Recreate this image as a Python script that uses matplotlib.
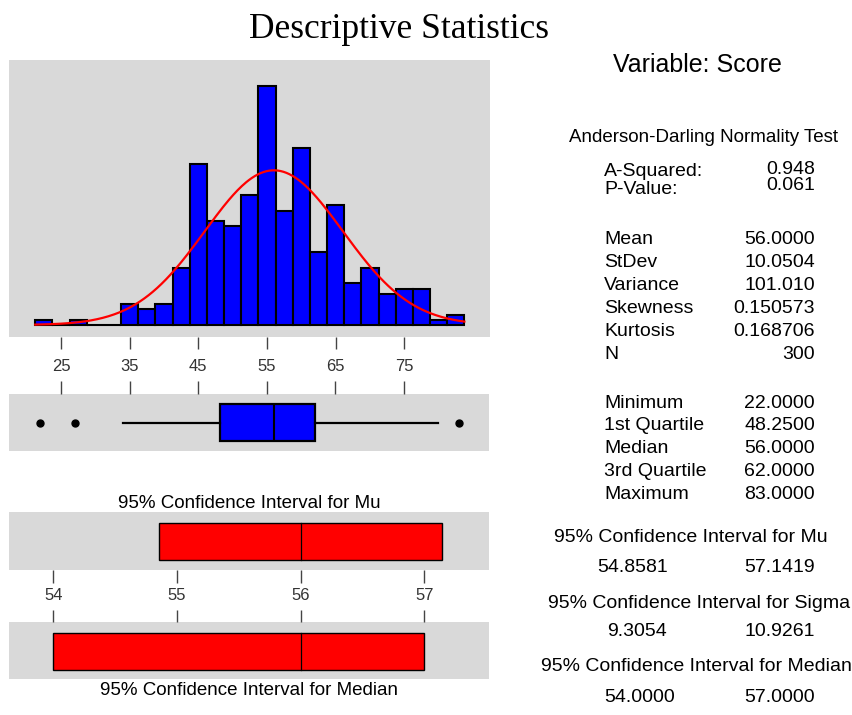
import matplotlib
matplotlib.use("Agg")
import matplotlib.pyplot as plt
import numpy as np

# ---------------------------------------------------------------------------
# data
# ---------------------------------------------------------------------------
bin_mids = [22.5, 25.0, 27.5, 30.0, 32.5, 35.0, 37.5, 40.0, 42.5, 45.0,
            47.5, 50.0, 52.5, 55.0, 57.5, 60.0, 62.5, 65.0, 67.5, 70.0,
            72.5, 75.0, 77.5, 80.0, 82.5]
bin_counts = [1, 0, 1, 0, 0, 4, 3, 4, 11, 31,
              20, 19, 25, 46, 22, 34, 14, 23, 8, 11,
              6, 7, 7, 1, 2]
bin_width = 2.5
hist_ticks = [25, 35, 45, 55, 65, 75]

mean, stdev, n_obs = 56.0, 10.0504, 300
q1, median, q3 = 48.25, 56.0, 62.0
whisker_lo, whisker_hi = 34, 80
outliers = [22, 27, 83]

ci_mu = (54.8581, 57.1419)
ci_median = (54.0, 57.0)
ci_ticks = [54, 55, 56, 57]

stat_rows_1 = [("Mean", "56.0000"), ("StDev", "10.0504"), ("Variance", "101.010"),
               ("Skewness", "0.150573"), ("Kurtosis", "0.168706"), ("N", "300")]
stat_rows_2 = [("Minimum", "22.0000"), ("1st Quartile", "48.2500"),
               ("Median", "56.0000"), ("3rd Quartile", "62.0000"),
               ("Maximum", "83.0000")]

# ---------------------------------------------------------------------------
W, H = 853, 715
GRAY = "#d9d9d9"
TICK_C = "#444444"
SANS = ["Liberation Sans", "DejaVu Sans"]
plt.rcParams["font.family"] = SANS

fig = plt.figure(figsize=(W / 100, H / 100), dpi=100)
fig.patch.set_facecolor("white")


def px_axes(x0, y0, x1, y1):
    """axes from pixel box (top-left origin)"""
    ax = fig.add_axes([x0 / W, 1 - y1 / H, (x1 - x0) / W, (y1 - y0) / H])
    ax.set_facecolor(GRAY)
    for sp in ax.spines.values():
        sp.set_visible(False)
    ax.set_yticks([])
    return ax


def px_text(x, y, s, **kw):
    kw.setdefault("va", "center")
    kw.setdefault("fontsize", 14)
    fig.text(x / W, 1 - y / H, s, **kw)


# --- histogram ---
ax_h = px_axes(9, 60, 490, 336.7)
ax_h.bar(bin_mids, bin_counts, width=bin_width, color="#0000ff",
         edgecolor="black", linewidth=1.5, zorder=2)
xs = np.linspace(bin_mids[0] - bin_width / 2, bin_mids[-1] + bin_width / 2, 300)
pdf = np.exp(-0.5 * ((xs - mean) / stdev) ** 2) / (stdev * np.sqrt(2 * np.pi))
ax_h.plot(xs, pdf * n_obs * bin_width, color="#ff0000", lw=1.6, zorder=3)
ax_h.set_xlim(17.43, 87.48)
ax_h.set_ylim(-2.25, 51.0)
ax_h.set_xticks(hist_ticks)
ax_h.tick_params(axis="x", direction="out", length=8.9, width=1, color=TICK_C,
                 labelsize=12, labelcolor="#333333", pad=7)

# --- boxplot ---
ax_b = px_axes(9, 394.3, 489.5, 450.7)
ax_b.bxp([{"med": median, "q1": q1, "q3": q3, "whislo": whisker_lo,
           "whishi": whisker_hi, "fliers": outliers}],
         positions=[0.5], widths=0.645, vert=False, patch_artist=True,
         boxprops=dict(facecolor="#0000ff", edgecolor="black", linewidth=1.6),
         medianprops=dict(color="black", linewidth=1.5),
         whiskerprops=dict(color="black", linewidth=1.6),
         capprops=dict(linewidth=0),
         flierprops=dict(marker="o", markersize=5, markerfacecolor="black",
                         markeredgecolor="black"))
ax_b.set_xlim(17.43, 87.48)
ax_b.set_ylim(0, 1)
ax_b.set_yticks([])
ax_b.set_xticks(hist_ticks)
ax_b.xaxis.set_ticks_position("top")
ax_b.tick_params(axis="x", direction="out", length=9.6, width=1, color=TICK_C,
                 labeltop=False, labelbottom=False)


def ci_panel(y0, y1, ci, centre, ycen, ticks_top):
    ax = px_axes(9, y0, 489.3, y1)
    ax.barh([ycen], [ci[1] - ci[0]], left=[ci[0]], height=0.64,
            color="#ff0000", edgecolor="black", linewidth=1.0, zorder=2)
    ax.plot([centre, centre], [ycen - 0.32, ycen + 0.32], color="black",
            lw=0.9, zorder=3)
    ax.set_xlim(53.642, 57.525)
    ax.set_ylim(0, 1)
    ax.set_xticks(ci_ticks)
    if ticks_top:
        ax.xaxis.set_ticks_position("top")
        ax.tick_params(axis="x", direction="out", length=8.4, width=1,
                       color=TICK_C, labeltop=False, labelbottom=False)
    else:
        ax.tick_params(axis="x", direction="out", length=9.6, width=1,
                       color=TICK_C, labelsize=12, labelcolor="#333333", pad=3)
    return ax


ci_panel(512.3, 570, ci_mu, mean, 0.5, ticks_top=False)
ci_panel(621.7, 679, ci_median, median, 0.48, ticks_top=True)

px_text(249, 503.5, "95% Confidence Interval for Mu", ha="center", fontsize=13.5)
px_text(249.5, 690.5, "95% Confidence Interval for Median", ha="center", fontsize=13.5)

# --- title and right-hand summary ---
px_text(399.5, 30, "Descriptive Statistics", ha="center", fontsize=25.5,
        family=["Liberation Serif", "DejaVu Serif"])
px_text(697, 65, "Variable: Score", ha="center", fontsize=18)
px_text(704, 138, "Anderson-Darling Normality Test", ha="center", fontsize=13.5)

LX, RX = 604, 815
px_text(LX, 171.7, "A-Squared:", ha="left")
px_text(RX, 169.3, "0.948", ha="right")
px_text(LX, 190, "P-Value:", ha="left")
px_text(RX, 185.7, "0.061", ha="right")

for i, (lab, val) in enumerate(stat_rows_1):
    y = 239.5 + i * 23
    px_text(LX, y, lab, ha="left")
    px_text(RX, y, val, ha="right")

for i, (lab, val) in enumerate(stat_rows_2):
    y = 403 + i * 22.8
    px_text(LX, y, lab, ha="left")
    px_text(RX, y, val, ha="right")

px_text(691, 537, "95% Confidence Interval for Mu", ha="center")
px_text(633, 567, "54.8581", ha="center")
px_text(RX, 567, "57.1419", ha="right")
px_text(699, 603, "95% Confidence Interval for Sigma", ha="center")
px_text(637.5, 631, "9.3054", ha="center")
px_text(RX, 631, "10.9261", ha="right")
px_text(696, 666.5, "95% Confidence Interval for Median", ha="center")
px_text(640, 697, "54.0000", ha="center")
px_text(RX, 697, "57.0000", ha="right")

fig.savefig("out.png", dpi=100, facecolor="white")
